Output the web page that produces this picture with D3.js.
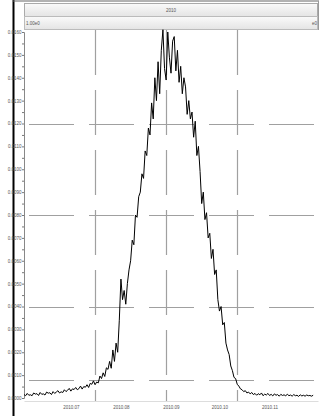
<!DOCTYPE html>
<html>
<head>
<meta charset="utf-8">
<script src="https://cdn.jsdelivr.net/npm/d3@7"></script>
<style>
body { margin: 0; background: #fff; }
text { font-family: "Liberation Sans Narrow", "Liberation Sans", Arial, sans-serif; fill: #555; }
</style>
</head>
<body>
<div id="chart-area"></div>
<script>
// chart data
const titleText = "2010"
const scaleLeftText = "1.00e0"
const scaleRightText = "e0"
const startDate = "2010-06-02"
const endDate = "2010-12-01"
const xTickDates = ["2010-07-01", "2010-08-01", "2010-09-01", "2010-10-01", "2010-11-01"]
const xGridDates = ["2010-07-16", "2010-08-29", "2010-10-12"]
const yTicks = [0, 0.001, 0.002, 0.003, 0.004, 0.005, 0.006, 0.007, 0.008, 0.009, 0.010, 0.011, 0.012, 0.013, 0.014, 0.015, 0.016]
const yGrid = [0.012, 0.008, 0.004, 0.0008]
// one value per day starting at startDate
const values = [
	0.00015, 0.00010, 0.00020, 0.00012, 0.00014, 0.00010, 0.00022, 0.00017, 0.00019, 0.00011,
	0.00024, 0.00016, 0.00018, 0.00013, 0.00026, 0.00021, 0.00023, 0.00015, 0.00028, 0.00020,
	0.00026, 0.00032, 0.00022, 0.00027, 0.00024, 0.00036, 0.00028, 0.00034, 0.00042, 0.00030,
	0.00040, 0.00037, 0.00046, 0.00036, 0.00041, 0.00052, 0.00039, 0.00050, 0.00047, 0.00058,
	0.00046, 0.00064, 0.00060, 0.00075, 0.00058, 0.00070, 0.00066, 0.00096, 0.00085, 0.00110,
	0.00094, 0.00132, 0.00125, 0.00160, 0.00130, 0.00210, 0.00160, 0.00240, 0.00200, 0.00340,
	0.00520, 0.00430, 0.00470, 0.00410, 0.00500, 0.00560, 0.00600, 0.00690, 0.00670, 0.00800,
	0.00790, 0.00880, 0.00900, 0.00980, 0.00960, 0.01080, 0.01060, 0.01180, 0.01150, 0.01290,
	0.01220, 0.01400, 0.01300, 0.01470, 0.01330, 0.01520, 0.01610, 0.01440, 0.01390, 0.01600,
	0.01490, 0.01420, 0.01560, 0.01580, 0.01430, 0.01520, 0.01380, 0.01450, 0.01330, 0.01400,
	0.01360, 0.01240, 0.01300, 0.01220, 0.01250, 0.01140, 0.01210, 0.01060, 0.01100, 0.00990,
	0.00850, 0.00900, 0.00780, 0.00810, 0.00700, 0.00720, 0.00610, 0.00650, 0.00540, 0.00560,
	0.00430, 0.00380, 0.00400, 0.00320, 0.00330, 0.00240, 0.00210, 0.00190, 0.00140, 0.00120,
	0.00090, 0.00085, 0.00060, 0.00052, 0.00040, 0.00036, 0.00028, 0.00032, 0.00022, 0.00026,
	0.00018, 0.00024, 0.00015, 0.00020, 0.00012, 0.00019, 0.00014, 0.00022, 0.00010, 0.00017,
	0.00013, 0.00020, 0.00011, 0.00016, 0.00009, 0.00018, 0.00012, 0.00015, 0.00008, 0.00016,
	0.00011, 0.00014, 0.00009, 0.00017, 0.00010, 0.00013, 0.00008, 0.00015, 0.00010, 0.00012,
	0.00007, 0.00014, 0.00009, 0.00012, 0.00008, 0.00013, 0.00010, 0.00011, 0.00008, 0.00012
]

const W = 320, H = 416
const PLOT = { LEFT: 24, RIGHT: 318, TOP: 30, BOTTOM: 401 }

const parseDate = d3.timeParse("%Y-%m-%d")
const formatTick = d3.timeFormat("%Y.%m")
const formatY = d3.format(".4f")

const data = values.map((v, i) => ({ date: d3.timeDay.offset(parseDate(startDate), i), value: v }))

const svg = d3.select("#chart-area").append("svg")
	.attr("width", W)
	.attr("height", H)

// outer frame
svg.append("line").attr("x1", 13.5).attr("x2", 13.5).attr("y1", 0).attr("y2", H)
	.attr("stroke", "#000").attr("stroke-width", 2)
svg.append("line").attr("x1", 13).attr("x2", 319).attr("y1", 1).attr("y2", 1)
	.attr("stroke", "#666").attr("stroke-width", 1)
svg.append("line").attr("x1", 318.5).attr("x2", 318.5).attr("y1", 1).attr("y2", 30)
	.attr("stroke", "#999").attr("stroke-width", 1)

// header bars
const grad = svg.append("defs").append("linearGradient")
	.attr("id", "hdr").attr("x1", 0).attr("x2", 0).attr("y1", 0).attr("y2", 1)
grad.append("stop").attr("offset", "0%").attr("stop-color", "#fafafa")
grad.append("stop").attr("offset", "100%").attr("stop-color", "#e4e4e4")

svg.append("rect").attr("x", 24.5).attr("y", 3.5).attr("width", 293).attr("height", 13)
	.attr("fill", "url(#hdr)").attr("stroke", "#aaa")
svg.append("rect").attr("x", 24.5).attr("y", 16.5).attr("width", 293).attr("height", 13)
	.attr("fill", "url(#hdr)").attr("stroke", "#bbb")

svg.append("text").attr("x", 171).attr("y", 11.5).attr("text-anchor", "middle")
	.attr("font-size", "4.5px").text(titleText)
svg.append("text").attr("x", 26).attr("y", 25).attr("font-size", "4.5px").text(scaleLeftText)
svg.append("text").attr("x", 317).attr("y", 25).attr("text-anchor", "end")
	.attr("font-size", "4.5px").text(scaleRightText)

// scales
const x = d3.scaleTime()
	.domain([parseDate(startDate), parseDate(endDate)])
	.range([PLOT.LEFT, PLOT.RIGHT])
const y = d3.scaleLinear()
	.domain([0, 0.016])
	.range([398, 32])

// grid lines
svg.append("g").selectAll("line").data(yGrid).join("line")
	.attr("x1", PLOT.LEFT + 1).attr("x2", PLOT.RIGHT)
	.attr("y1", d => Math.round(y(d)) + 0.5).attr("y2", d => Math.round(y(d)) + 0.5)
	.attr("stroke", "#a0a0a0").attr("stroke-width", 1.2)
	.attr("stroke-dasharray", "45,15").attr("stroke-dashoffset", 56)

svg.append("g").selectAll("line").data(xGridDates.map(parseDate)).join("line")
	.attr("x1", d => Math.round(x(d)) + 0.5).attr("x2", d => Math.round(x(d)) + 0.5)
	.attr("y1", PLOT.TOP).attr("y2", PLOT.BOTTOM)
	.attr("stroke", "#a0a0a0").attr("stroke-width", 1.2)
	.attr("stroke-dasharray", "45,15").attr("stroke-dashoffset", 0)

// y axis
const yAxisCall = d3.axisLeft(y)
	.tickValues(d3.range(0, 0.01601, 0.0005))
	.tickSize(2)
	.tickFormat(d => yTicks.some(t => Math.abs(t - d) < 1e-9) ? formatY(d) : "")
const yAxis = svg.append("g")
	.attr("transform", `translate(${PLOT.LEFT}, 0)`)
	.call(yAxisCall)
yAxis.select(".domain").attr("stroke", "#888")
yAxis.selectAll(".tick line").attr("stroke", "#777")
yAxis.selectAll("text").attr("font-size", "4.5px").attr("fill", "#444").attr("x", -2.5)
	.style("font-family", "'Liberation Sans Narrow', sans-serif")

// x axis labels
const xAxisCall = d3.axisBottom(x)
	.tickValues(xTickDates.map(parseDate))
	.tickSize(0)
	.tickFormat(formatTick)
const xAxis = svg.append("g")
	.attr("transform", `translate(0, ${PLOT.BOTTOM})`)
	.call(xAxisCall)
xAxis.select(".domain").attr("stroke", "#ddd")
xAxis.selectAll("text").attr("font-size", "4.5px").attr("fill", "#444").attr("y", 5)
	.style("font-family", "'Liberation Sans Narrow', sans-serif")

// the series line
const line = d3.line()
	.x(d => x(d.date))
	.y(d => y(d.value))

svg.append("path")
	.attr("fill", "none")
	.attr("stroke", "#000")
	.attr("stroke-width", 1)
	.attr("d", line(data))
</script>
</body>
</html>
